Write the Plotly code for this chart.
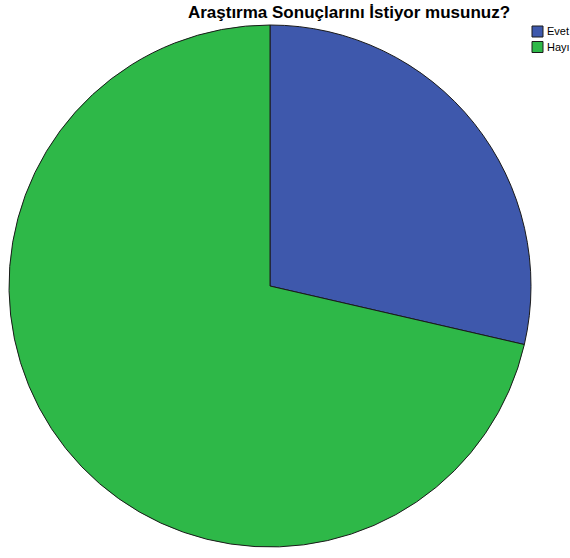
import plotly.graph_objects as go

labels = ["Evet", "Hayı"]
values = [28.6, 71.4]
colors = ["#3E58AC", "#2EB848"]

W, H = 570, 558
cx, cy, r = 270, 286, 261

fig = go.Figure(go.Pie(
    labels=labels, values=values, sort=False, direction="clockwise", rotation=0,
    marker=dict(colors=colors, line=dict(color="#1a1a1a", width=1)),
    textinfo="none", hoverinfo="label+percent", showlegend=False,
    domain=dict(x=[(cx - r) / W, (cx + r) / W], y=[1 - (cy + r) / H, 1 - (cy - r) / H]),
))

# manual legend (paper coordinates)
for i, (lab, col) in enumerate(zip(labels, colors)):
    y0 = 26 + i * 15.5
    fig.add_shape(type="rect", xref="paper", yref="paper",
                  x0=532 / W, x1=543 / W, y0=1 - (y0 + 11) / H, y1=1 - y0 / H,
                  fillcolor=col, line=dict(color="#1a1a1a", width=1))
    fig.add_annotation(text=lab, xref="paper", yref="paper", x=545 / W, y=1 - (y0 + 5.5) / H,
                       xanchor="left", yanchor="middle", showarrow=False,
                       font=dict(family="Liberation Sans, Arial", size=11, color="black"))

fig.update_layout(
    width=W, height=H, margin=dict(l=0, r=0, t=0, b=0),
    paper_bgcolor="white", plot_bgcolor="white",
    title=dict(text="<b>Araştırma Sonuçlarını İstiyor musunuz?</b>", x=349 / W, xanchor="center",
               y=1 - 12 / H, yanchor="middle",
               font=dict(family="Liberation Sans, Arial", size=17, color="black")),
)
fig.write_html("out.html")
